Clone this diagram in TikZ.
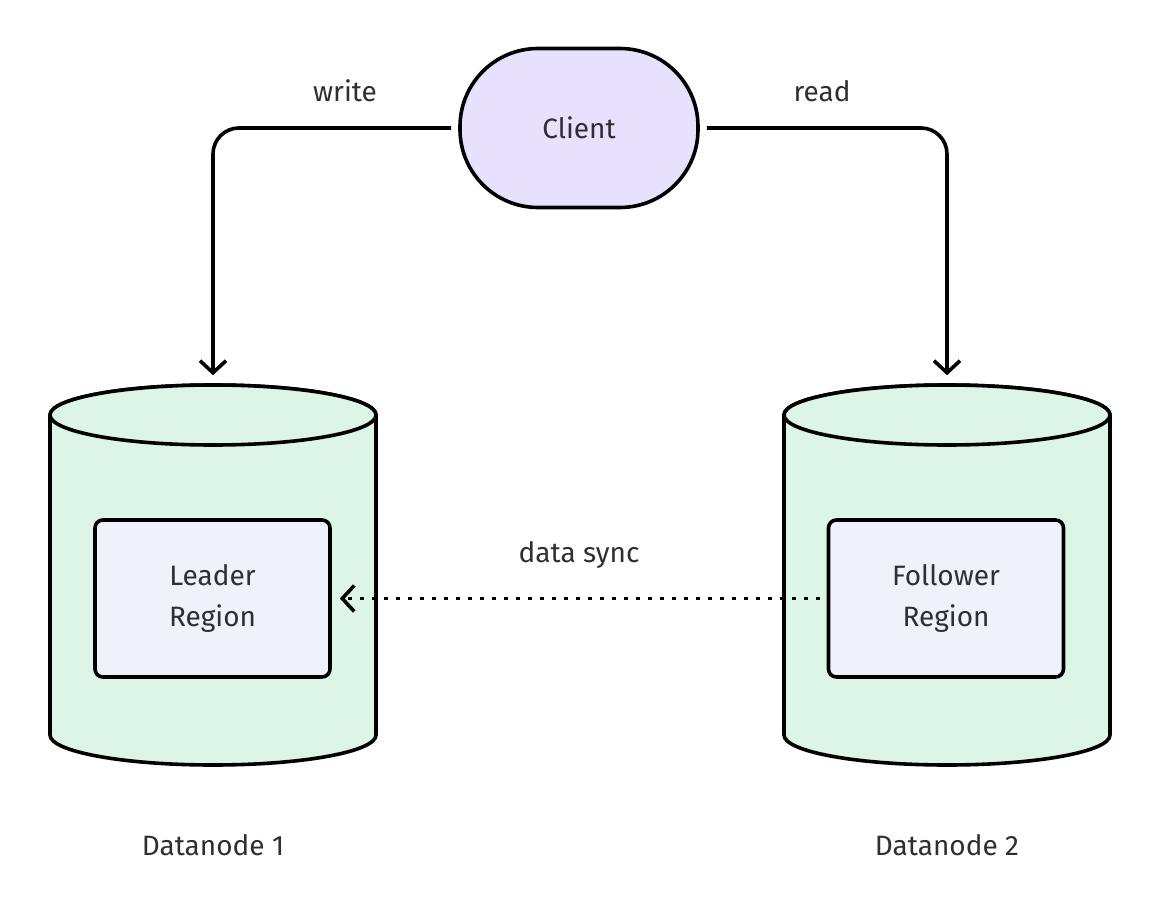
\documentclass[tikz,border=0pt]{standalone}
\usepackage{fontspec}
\setmainfont{Fira Sans}
\usetikzlibrary{arrows.meta}
\definecolor{clientfill}{HTML}{E8E1FD}
\definecolor{dnfill}{HTML}{DDF5E6}
\definecolor{regionfill}{HTML}{EEF2FB}
\definecolor{txtgray}{HTML}{2E2E33}
\tikzset{
  lbl/.style={font=\fontsize{28}{41}\selectfont,text=txtgray,align=center},
  regionbox/.style={lbl,draw,fill=regionfill,rounded corners=8pt,minimum width=235pt,minimum height=157pt},
  flow/.style={-{Straight Barb[length=12pt,width=26pt]},shorten <=7pt,shorten >=8pt},
}
\begin{document}
\begin{tikzpicture}[x=1pt,y=-1pt,line width=3.6pt]
  \useasboundingbox (0,0) rectangle (1162,912);
  % datanode cylinders
  \draw[fill=dnfill] (50,415) -- (50,735) arc[start angle=180,end angle=0,x radius=163,y radius=30]
    -- (376,415) arc[start angle=0,end angle=-180,x radius=163,y radius=30] -- cycle;
  \draw[fill=dnfill] (213,415) ellipse[x radius=163,y radius=30];
  \draw[fill=dnfill] (784,415) -- (784,735) arc[start angle=180,end angle=0,x radius=163,y radius=30]
    -- (1110,415) arc[start angle=0,end angle=-180,x radius=163,y radius=30] -- cycle;
  \draw[fill=dnfill] (947,415) ellipse[x radius=163,y radius=30];
  \node[minimum width=326pt,minimum height=380pt,inner sep=0pt] (dn1) at (213,575) {};
  \node[minimum width=326pt,minimum height=380pt,inner sep=0pt] (dn2) at (947,575) {};
  \node[lbl] (dn1lbl) at (213,845) {Datanode 1};
  \node[lbl] (dn2lbl) at (947,845) {Datanode 2};
  % regions
  \node[regionbox] (leader) at (212.5,598.5) {Leader\\Region};
  \node[regionbox] (follower) at (946,598.5) {Follower\\Region};
  % client
  \node[lbl,draw,fill=clientfill,rounded corners=78pt,minimum width=238pt,minimum height=159pt] (client) at (579,128) {Client};
  \draw[flow,rounded corners=26pt] (client.west) -| (dn1.north);
  \draw[flow,rounded corners=26pt] (client.east) -| (dn2.north);
  \node[lbl] (writelbl) at (345,91) {write};
  \node[lbl] (readlbl) at (822,91) {read};
  \draw[flow,dash pattern=on 4pt off 8pt] (follower.west) -- (leader.east);
  \node[lbl] (synclbl) at (579,555) {data sync};
\end{tikzpicture}
\end{document}
